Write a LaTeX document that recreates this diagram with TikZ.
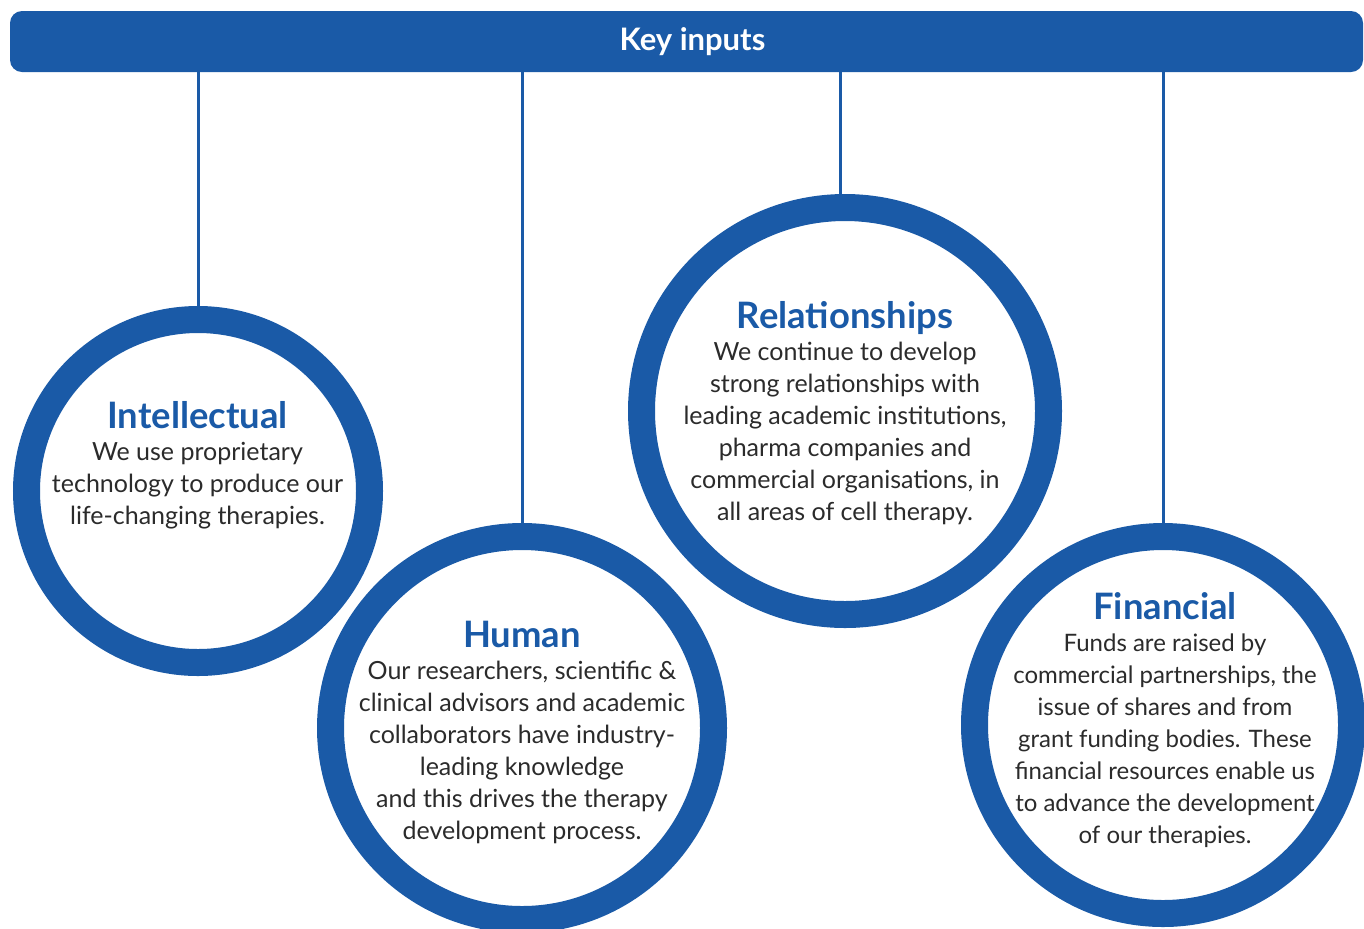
\documentclass[tikz,border=0pt]{standalone}
\usepackage{fontspec}
\setmainfont{Lato}
\definecolor{keyblue}{HTML}{1A5AA7}
\definecolor{bodygray}{HTML}{2B2B2B}
\begin{document}
\begin{tikzpicture}[x = 0.5pt, y = -0.5pt,
        ring/.style = {circle, draw = keyblue, line width = 13.5pt, fill = white, inner sep = 0pt},
        link/.style = {draw = keyblue, line width = 1.5pt},
        blurb/.style = {anchor = north, align = center, inner sep = 0pt, text = bodygray,
            font = \fontsize{12.5}{16}\selectfont}]
    \newcommand{\inputtitle}[1]{{\bfseries\fontsize{18.2}{16}\selectfont\color{keyblue}#1}}
    \useasboundingbox (0,0) rectangle (1364,928);
    % banner
    \node[fill = keyblue, rounded corners = 6pt, minimum width = 676.5pt, minimum height = 30.5pt,
        inner sep = 0pt, text = white, font = \bfseries\fontsize{15.5}{15.5}\selectfont] (bar) at (686.5,41.5) {\hspace*{6pt}\raisebox{-1.5pt}{Key inputs}};
    % the four rings
    \node[ring, minimum size = 171.5pt] (intel) at (198,491) {};
    \node[ring, minimum size = 191.5pt] (human) at (522,728) {};
    \node[ring, minimum size = 203.5pt] (relat) at (845,411) {};
    \node[ring, minimum size = 188.5pt] (finan) at (1163,725) {};
    \draw[link] (bar.south -| intel.north) -- (intel.north);
    \draw[link] (bar.south -| human.north) -- (human.north);
    \draw[link] ([xshift = -2.5pt]bar.south -| relat.north) -- ([xshift = -2.5pt]relat.north);
    \draw[link] (bar.south -| finan.north) -- (finan.north);
    % texts
    \node[blurb] (intel-text) at (197.5,401) {\inputtitle{Intellectual}\\We use proprietary\\technology to produce our\\life-changing therapies.};
    \node[blurb] (relat-text) at (845,301) {\inputtitle{Relationships}\\We continue to develop\\strong relationships with\\leading academic institutions,\\pharma companies and\\commercial organisations, in\\all areas of cell therapy.};
    \node[blurb] (human-text) at (522,621) {\inputtitle{Human}\\Our researchers, scientific \&\\clinical advisors and academic\\collaborators have industry-\\leading knowledge\\and this drives the therapy\\development process.};
    \node[blurb, font = \fontsize{12}{16}\selectfont] (finan-text) at (1165,592) {\inputtitle{Financial}\\Funds are raised by\\commercial partnerships, the\\issue of shares and from\\grant funding bodies. These\\financial resources enable us\\to advance the development\\of our therapies.};
\end{tikzpicture}
\end{document}
